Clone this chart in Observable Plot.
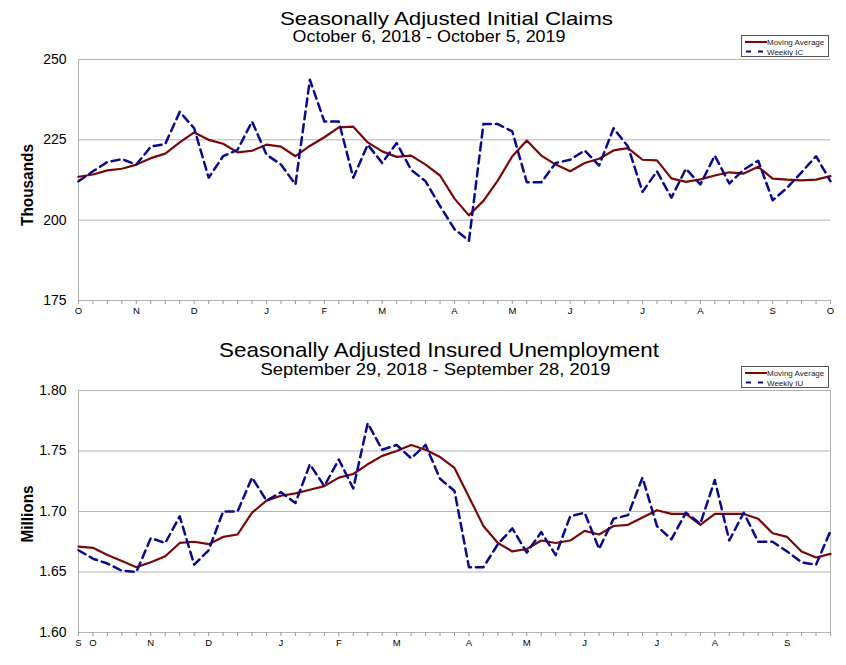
<!DOCTYPE html>
<html><head><meta charset="utf-8">
<script src="https://cdn.jsdelivr.net/npm/d3@7"></script>
<script src="https://cdn.jsdelivr.net/npm/@observablehq/plot@0.6"></script>
<style>
body{margin:0;background:#fff;font-family:"Liberation Sans",Arial,sans-serif;}
#wrap{position:relative;width:846px;height:665px;overflow:hidden;background:#fff}
.plot{position:absolute;left:0}
</style>
</head><body>
<div id="wrap"></div>
<script>
// ---- Initial claims (thousands), weeks from Oct 6, 2018 to Oct 5, 2019 ----
const icStart = "2018-10-06";
const icWeekly = [212.1,215.2,218.1,219.0,217.3,222.9,223.7,233.7,228.6,213.2,219.9,221.9,230.7,220.4,217.3,211.1,243.7,230.7,230.7,213.2,223.5,217.8,224.0,215.7,212.1,204.4,197.2,193.6,229.9,229.9,227.6,211.8,211.8,217.8,218.8,221.7,217.0,228.6,222.9,208.8,215.2,207.0,216.0,211.1,220.1,211.4,215.7,218.5,206.2,210.1,214.9,219.9,212.1];
const icAvg = [213.5,214.2,215.5,216.0,217.3,219.3,220.7,224.2,227.3,225.0,223.8,221.1,221.6,223.5,222.9,219.9,223.1,225.8,228.9,229.1,224.2,221.4,219.7,220.1,217.3,213.9,206.7,201.5,206.0,212.4,219.9,224.8,220.1,217.3,215.2,217.8,219.1,221.7,222.4,218.8,218.6,213.0,211.9,212.7,213.9,214.9,214.5,216.6,212.9,212.6,212.4,212.6,213.7];
const icYTicks = [175, 200, 225, 250];
const icTickDates = ["2018-10-06","2018-11-03","2018-12-01","2019-01-05","2019-02-02","2019-03-02","2019-04-06","2019-05-04","2019-06-01","2019-07-06","2019-08-03","2019-09-07","2019-10-05"];
const icTickLabels = ["O","N","D","J","F","M","A","M","J","J","A","S","O"];

// ---- Insured unemployment (millions), weeks from Sep 29, 2018 to Sep 28, 2019 ----
const iuStart = "2018-09-29";
const iuWeekly = [1.668,1.661,1.657,1.651,1.650,1.678,1.674,1.696,1.656,1.668,1.700,1.700,1.728,1.709,1.716,1.707,1.739,1.721,1.743,1.719,1.773,1.751,1.755,1.744,1.755,1.727,1.717,1.654,1.654,1.673,1.686,1.666,1.683,1.664,1.696,1.699,1.669,1.694,1.697,1.728,1.688,1.677,1.699,1.690,1.726,1.676,1.699,1.675,1.675,1.667,1.658,1.656,1.684];
const iuAvg = [1.671,1.670,1.664,1.659,1.654,1.658,1.663,1.674,1.675,1.673,1.679,1.681,1.699,1.709,1.713,1.715,1.718,1.721,1.728,1.731,1.739,1.746,1.750,1.755,1.751,1.745,1.736,1.712,1.688,1.674,1.667,1.669,1.676,1.674,1.676,1.684,1.681,1.688,1.689,1.695,1.701,1.698,1.698,1.689,1.698,1.698,1.698,1.694,1.682,1.679,1.667,1.662,1.665];
const iuYTicks = [1.60, 1.65, 1.70, 1.75, 1.80];
const iuTickDates = ["2018-09-29","2018-10-06","2018-11-03","2018-12-01","2019-01-05","2019-02-02","2019-03-02","2019-04-06","2019-05-04","2019-06-01","2019-07-06","2019-08-03","2019-09-07"];
const iuTickLabels = ["S","O","N","D","J","F","M","A","M","J","J","A","S"];

// ---- Texts ----
const titles = [
  {text: "Seasonally Adjusted Initial Claims", x: 446.5, y: 24.5, size: 18.5, len: 333},
  {text: "October 6, 2018 - October 5, 2019", x: 429, y: 41.5, size: 16, len: 273},
  {text: "Seasonally Adjusted Insured Unemployment", x: 439, y: 356.5, size: 21, len: 440},
  {text: "September 29, 2018 - September 28, 2019", x: 435.5, y: 375, size: 17, len: 350}
];
const yLabels = [
  {text: "Thousands", x: 32.5, y: 185, len: 82},
  {text: "Millions", x: 32.5, y: 514, len: 57}
];

const FONT = "Liberation Sans, Arial, sans-serif";
const MA_COLOR = "#7a0808";
const WK_COLOR = "#0a0a8c";
const GRID = "#b4b4b4";

function weeks(start, n) {
  const s = new Date(start + "T00:00:00Z");
  return d3.range(n).map(i => d3.utcDay.offset(s, 7 * i));
}

function makeChart({start, weekly, avg, yTicks, tickDates, tickLabels, yFmt, height, marginTop, marginBottom, rightBorder}) {
  const dates = weeks(start, weekly.length);
  const rows = dates.map((d, i) => ({date: d, wk: weekly[i], ma: avg[i]}));
  const labelMap = new Map(tickDates.map((d, i) => [+new Date(d + "T00:00:00Z"), tickLabels[i]]));
  const marks = [
    Plot.ruleY(yTicks, {stroke: GRID, strokeWidth: 1}),
    Plot.ruleX([dates[0]], {stroke: GRID, strokeWidth: 1}),
    Plot.axisY({ticks: yTicks, tickSize: 0, tickPadding: 12, fontSize: 14, label: null, tickFormat: yFmt}),
    Plot.axisX({ticks: dates, tickSize: 4, tickPadding: 3, stroke: "#999", fontSize: 9.5, label: null,
      tickFormat: d => labelMap.get(+d) ?? ""}),
    Plot.line(rows, {x: "date", y: "ma", stroke: MA_COLOR, strokeWidth: 2.2}),
    Plot.line(rows, {x: "date", y: "wk", stroke: WK_COLOR, strokeWidth: 2.5, strokeDasharray: "8,5"})
  ];
  if (rightBorder) marks.splice(2, 0, Plot.ruleX([dates[dates.length - 1]], {stroke: GRID, strokeWidth: 1}));
  return Plot.plot({
    width: 846, height, marginLeft: 78, marginRight: 16, marginTop, marginBottom,
    style: {fontFamily: FONT, background: "transparent", color: "#000", overflow: "visible"},
    x: {type: "utc", domain: [dates[0], dates[dates.length - 1]]},
    y: {domain: [yTicks[0], yTicks[yTicks.length - 1]]},
    marks
  });
}

function legend(left, top, label2) {
  const svg = d3.create("svg").attr("width", 90).attr("height", 24)
    .style("position", "absolute").style("left", left + "px").style("top", top + "px");
  svg.append("rect").attr("x", 0.5).attr("y", 0.5).attr("width", 87).attr("height", 21)
    .attr("fill", "#fff").attr("stroke", "#555");
  svg.append("line").attr("x1", 4).attr("x2", 26).attr("y1", 7).attr("y2", 7)
    .attr("stroke", MA_COLOR).attr("stroke-width", 2);
  svg.append("line").attr("x1", 5).attr("x2", 26).attr("y1", 16.5).attr("y2", 16.5)
    .attr("stroke", WK_COLOR).attr("stroke-width", 2).attr("stroke-dasharray", "5,7");
  svg.append("text").attr("x", 26).attr("y", 10).attr("font-size", 8).attr("font-family", FONT).attr("fill", "#222").text("Moving Average");
  svg.append("text").attr("x", 26).attr("y", 19.5).attr("font-size", 8).attr("font-family", FONT).attr("fill", "#222").text(label2);
  return svg.node();
}

const wrap = document.getElementById("wrap");
const c1 = makeChart({start: icStart, weekly: icWeekly, avg: icAvg, yTicks: icYTicks, tickDates: icTickDates,
  tickLabels: icTickLabels, yFmt: d3.format("d"), height: 330, marginTop: 59, marginBottom: 30, rightBorder: false});
c1.classList.add("plot"); c1.style.top = "0px";
wrap.appendChild(c1);

const c2 = makeChart({start: iuStart, weekly: iuWeekly, avg: iuAvg, yTicks: iuYTicks, tickDates: iuTickDates,
  tickLabels: iuTickLabels, yFmt: d3.format(".2f"), height: 335, marginTop: 60, marginBottom: 33, rightBorder: true});
c2.classList.add("plot"); c2.style.top = "330px";
wrap.appendChild(c2);

// overlay for titles and axis labels
const ov = d3.create("svg").attr("width", 846).attr("height", 665)
  .style("position", "absolute").style("left", "0px").style("top", "0px").style("pointer-events", "none");
for (const t of titles) {
  ov.append("text").attr("x", t.x).attr("y", t.y).attr("text-anchor", "middle")
    .attr("font-family", FONT).attr("font-size", t.size).attr("fill", "#000")
    .attr("textLength", t.len).attr("lengthAdjust", "spacingAndGlyphs").text(t.text);
}
for (const t of yLabels) {
  ov.append("text").attr("transform", `translate(${t.x},${t.y}) rotate(-90)`).attr("text-anchor", "middle")
    .attr("font-family", FONT).attr("font-size", 17).attr("font-weight", "bold").attr("fill", "#000")
    .attr("textLength", t.len).attr("lengthAdjust", "spacingAndGlyphs").text(t.text);
}
wrap.appendChild(ov.node());

wrap.appendChild(legend(741, 35, "Weekly IC"));
wrap.appendChild(legend(741, 366, "Weekly IU"));
</script>
</body></html>
